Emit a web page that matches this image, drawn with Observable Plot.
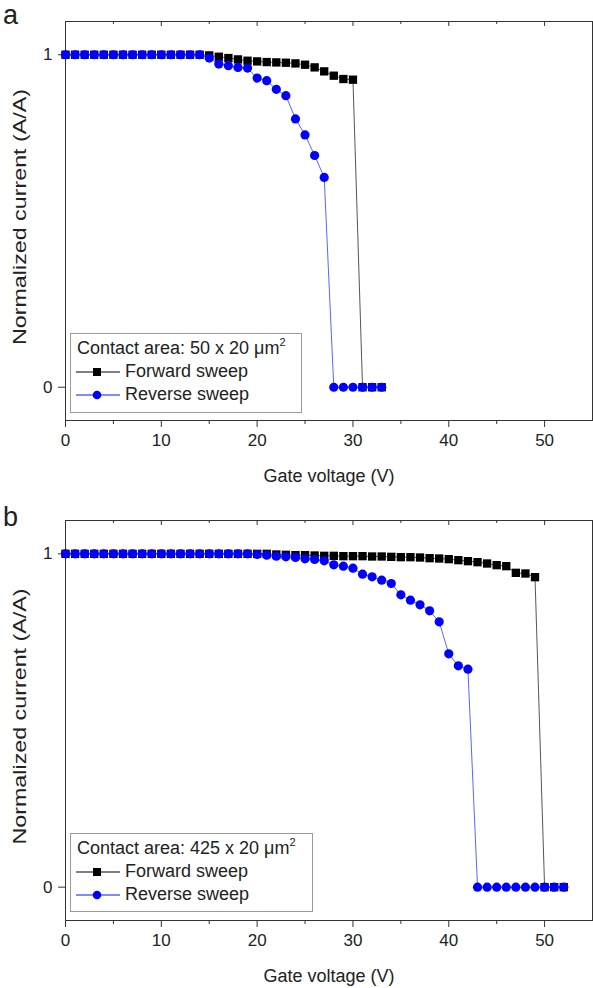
<!DOCTYPE html>
<html>
<head>
<meta charset="utf-8">
<script src="https://cdn.jsdelivr.net/npm/d3@7"></script>
<script src="https://cdn.jsdelivr.net/npm/@observablehq/plot@0.6"></script>
<style>
  body { margin: 0; background: #fff; font-family: "Liberation Sans", Arial, sans-serif; }
  .panel { position: relative; width: 593px; height: 494px; }
  .panel svg { display: block; }
  .tag { position: absolute; left: 3px; font-size: 27px; color: #222; line-height: 1; }
  .legend { position: absolute; left: 70px; border: 1px solid #9a9a9a; background: #fff;
            font-size: 18px; color: #222; padding: 3px 6px 2px 6px; box-sizing: border-box; }
  .legend .row { display: flex; align-items: center; height: 23px; white-space: nowrap; }
  .legend svg { margin-right: 5px; margin-left: -1px; }
  .legend sup { font-size: 11px; vertical-align: 0; position: relative; top: -8px; }
</style>
</head>
<body>
<div id="root"></div>
<script>
// ---- data ----
const voltsA = d3.range(0, 34);
const forwardA = [1,1,1,1,1,1,1,1,1,1,1,1,1,1,1,0.998,0.994,0.99,0.986,0.982,0.98,0.978,0.977,0.976,0.974,0.97,0.962,0.95,0.937,0.927,0.925,0,0,0];
const reverseA = [1,1,1,1,1,1,1,1,1,1,1,1,1,1,1,0.99,0.972,0.967,0.962,0.96,0.93,0.922,0.896,0.877,0.807,0.759,0.697,0.631,0,0,0,0,0,0];

const voltsB = d3.range(0, 53);
const forwardB = [1,1,1,1,1,1,1,1,1,1,1,1,1,1,1,1,1,1,1,1,1,1,0.998,0.997,0.996,0.996,0.995,0.994,0.994,0.993,0.993,0.993,0.992,0.992,0.991,0.99,0.99,0.989,0.987,0.986,0.984,0.981,0.978,0.975,0.971,0.966,0.963,0.943,0.941,0.93,0,0,0];
const reverseB = [1,1,1,1,1,1,1,1,1,1,1,1,1,1,1,1,1,1,1,1,0.998,0.996,0.993,0.991,0.989,0.985,0.983,0.979,0.967,0.963,0.957,0.939,0.931,0.921,0.911,0.877,0.861,0.847,0.829,0.796,0.70,0.664,0.654,0,0,0,0,0,0,0,0,0,0,0];

const xTicks = [0, 10, 20, 30, 40, 50];
const xMinor = [5, 15, 25, 35, 45];
const yTicks = [0, 1];
const xTitle = "Gate voltage (V)";
const yTitle = "Normalized current (A/A)";
const seriesNames = ["Forward sweep", "Reverse sweep"];
const panels = [
  {tag: "a", area: "50 x 20 μm", volts: voltsA, fwd: forwardA, rev: reverseA, mt: 21, mb: 74, tagTop: 2, legTop: 333, legW: 232, legH: 80},
  {tag: "b", area: "425 x 20 μm", volts: voltsB, fwd: forwardB, rev: reverseB, mt: 26, mb: 68, tagTop: 10, legTop: 339, legW: 243, legH: 79}
];

const W = 593, H = 494;
const fwdLine = "#555", fwdFill = "#000", revLine = "#5566ff", revFill = "#0000ff";

function makePlot(p) {
  const fh = H - p.mt - p.mb;
  const F = p.volts.map((v, i) => ({v, i: p.fwd[i]}));
  const R = p.volts.map((v, i) => ({v, i: p.rev[i]}));
  const svg = Plot.plot({
    width: W, height: H,
    marginLeft: 65, marginRight: 1, marginTop: p.mt, marginBottom: p.mb,
    style: {fontFamily: "Liberation Sans, Arial, sans-serif", fontSize: "17px", color: "#222", background: "#fff", overflow: "visible"},
    x: {domain: [0, 55]},
    y: {domain: [-0.1, 1.1]},
    marks: [
      Plot.axisX({ticks: xTicks, tickSize: 7, tickPadding: 6, fontSize: 17, label: null, stroke: "#333"}),
      Plot.axisX({ticks: xMinor, tickSize: 4, tickFormat: () => "", label: null, stroke: "#333"}),
      Plot.tickX(xTicks, {x: d => d, insetBottom: fh - 5, stroke: "#333"}),
      Plot.tickX(xMinor, {x: d => d, insetBottom: fh - 3, stroke: "#333"}),
      Plot.axisY({ticks: yTicks, tickSize: 7, tickPadding: 6, tickFormat: d3.format("d"), fontSize: 17, label: null, stroke: "#333"}),
      Plot.frame({stroke: "#333"}),
      Plot.text([xTitle], {frameAnchor: "bottom", dy: 61, fontSize: 18, fill: "#222"}),
      Plot.text([yTitle], {frameAnchor: "left", textAnchor: "middle", dx: -45, dy: -4, rotate: -90, fontSize: 18, fill: "#222"}),
      Plot.line(F, {x: "v", y: "i", stroke: fwdLine, strokeWidth: 1}),
      Plot.dot(F, {x: "v", y: "i", symbol: "square", r: 4.7, fill: fwdFill, stroke: "none"}),
      Plot.line(R, {x: "v", y: "i", stroke: revLine, strokeWidth: 1}),
      Plot.dot(R, {x: "v", y: "i", symbol: "circle", r: 4.6, fill: revFill, stroke: "none"})
    ]
  });
  // the reference figure is slightly stretched vertically: lengthen the rotated title
  d3.select(svg).selectAll("text").each(function() {
    if (this.textContent === yTitle) {
      d3.select(this).attr("textLength", 256).attr("lengthAdjust", "spacingAndGlyphs");
    }
  });
  return svg;
}

function swatch(line, fill, shape) {
  return `<svg width="44" height="12" viewBox="0 0 44 12"><line x1="0" y1="6" x2="44" y2="6" stroke="${line}" stroke-width="1.3"/>` +
    (shape === "square"
      ? `<rect x="17" y="2" width="8" height="8" fill="${fill}"/>`
      : `<circle cx="21" cy="6" r="4.3" fill="${fill}"/>`) + `</svg>`;
}

const root = document.getElementById("root");
for (const p of panels) {
  const div = document.createElement("div");
  div.className = "panel";
  div.appendChild(makePlot(p));
  const tag = document.createElement("div");
  tag.className = "tag";
  tag.style.top = p.tagTop + "px";
  tag.textContent = p.tag;
  div.appendChild(tag);
  const leg = document.createElement("div");
  leg.className = "legend";
  leg.style.top = p.legTop + "px";
  leg.style.width = p.legW + "px";
  leg.style.height = p.legH + "px";
  leg.innerHTML =
    `<div class="row"><span>Contact area: ${p.area}<sup>2</sup></span></div>` +
    `<div class="row">${swatch(fwdLine, fwdFill, "square")}<span>${seriesNames[0]}</span></div>` +
    `<div class="row">${swatch(revLine, revFill, "circle")}<span>${seriesNames[1]}</span></div>`;
  div.appendChild(leg);
  root.appendChild(div);
}
</script>
</body>
</html>
